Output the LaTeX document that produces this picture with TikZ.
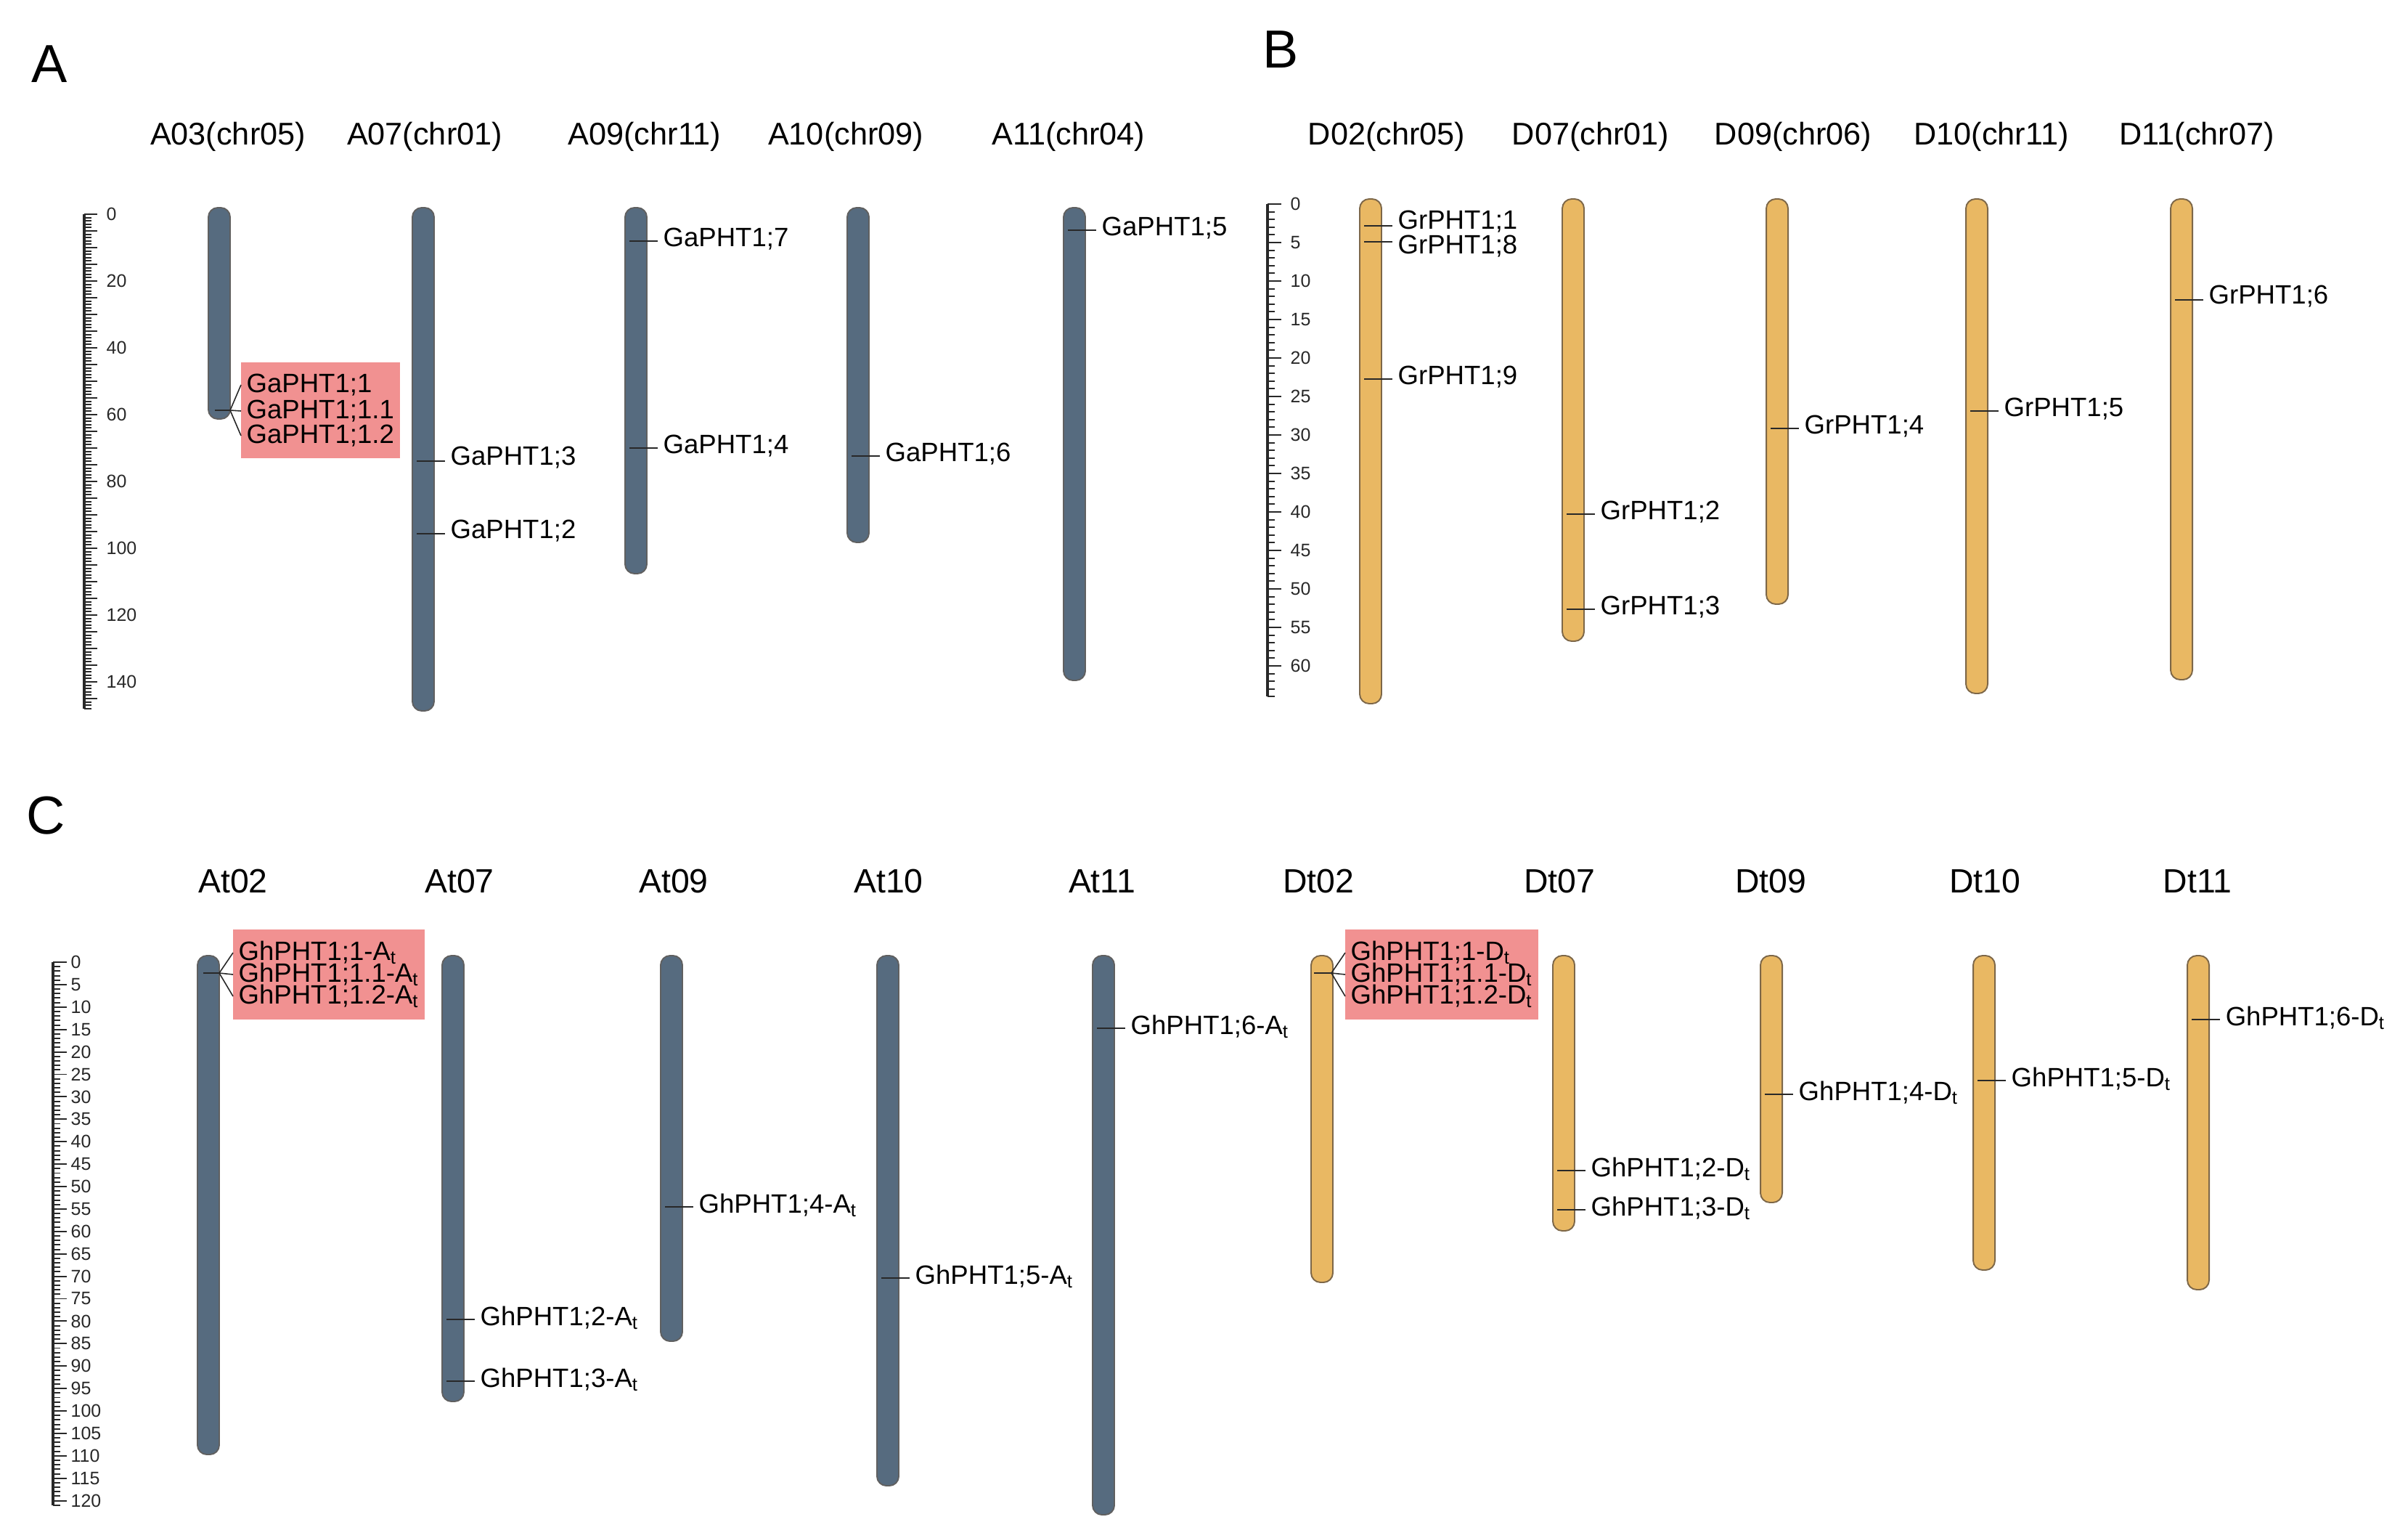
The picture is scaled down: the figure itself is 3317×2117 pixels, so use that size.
\documentclass[tikz,border=0pt]{standalone}
\usepackage{fontspec}
\setmainfont{Liberation Sans}
\usetikzlibrary{fit,backgrounds}
\definecolor{chromA}{RGB}{86,107,127}
\definecolor{chromD}{RGB}{233,184,99}
\definecolor{dupbox}{RGB}{241,145,145}
\definecolor{inkgray}{RGB}{40,40,40}

\begin{document}
\begin{tikzpicture}[x=0.1mm, y=-0.1mm,
    achrom/.style={fill=chromA, draw=gray!75!black, line width=0.55pt, rounded corners=1.3mm},
    dchrom/.style={fill=chromD, draw={rgb,255:red,125;green,103;blue,72}, line width=0.55pt, rounded corners=1.3mm},
    gene/.style={anchor=west, inner xsep=0.7mm, inner ysep=0pt, text=black, font=\fontsize{10.4}{12}\selectfont},
    gtick/.style={draw=inkgray, line width=0.6pt},
    dup/.style={fill=dupbox, draw=none, inner xsep=0pt, inner ysep=1.5mm},
    chrname/.style={text=black, font=\fontsize{12.3}{14}\selectfont},
    chrnamec/.style={text=black, font=\fontsize{13.2}{15}\selectfont},
    panel/.style={anchor=west, inner sep=0pt, font=\fontsize{21}{24}\selectfont},
    raxis/.style={draw=inkgray, line width=1pt},
    rtick/.style={draw=inkgray, line width=0.55pt},
    rlab/.style={anchor=west, inner sep=0pt, text=inkgray, font=\fontsize{7.1}{8}\selectfont}
]
    \useasboundingbox (0,0) rectangle (3317,2117);

    % panel letters
    \node[panel] (pA) at (43,88) {A};
    \node[panel] (pB) at (1739,68) {B};
    \node[panel] (pC) at (36,1123) {C};

    % chromosome names
    \foreach \x/\t [count=\i] in {314/A03(chr05), 585/A07(chr01), 888/A09(chr11), 1165/A10(chr09), 1472/A11(chr04),
                                  1910/D02(chr05), 2191/D07(chr01), 2470/D09(chr06), 2743/D10(chr11), 3026/D11(chr07)} {
        \node[chrname] (n\i) at (\x,188) {\t};
    }
    \foreach \x/\t [count=\i] in {321/At02, 633/At07, 928/At09, 1224/At10, 1518/At11,
                                  1816/Dt02, 2148/Dt07, 2439/Dt09, 2734/Dt10, 3027/Dt11} {
        \node[chrnamec] (m\i) at (\x,1214) {\t};
    }

    % scale bars
    \draw[raxis] (116,295) -- (116,{295+148*4.6});
    \foreach \i in {0,...,148} {
        \pgfmathsetmacro\tl{ifthenelse(mod(\i,5)==0,18,10)}
        \draw[rtick] (116,{295+\i*4.6}) -- ++(\tl,0);
    }
    \foreach \v in {0,20,...,140}
        \node[rlab] (ra\v) at (146,{295+\v*4.6}) {\v};

    \draw[raxis] (1746,281) -- (1746,{281+64*10.6});
    \foreach \i in {0,...,64} {
        \pgfmathsetmacro\tl{ifthenelse(mod(\i,5)==0,19,10)}
        \draw[rtick] (1746,{281+\i*10.6}) -- ++(\tl,0);
    }
    \foreach \v in {0,5,...,60}
        \node[rlab] (rb\v) at (1777,{281+\v*10.6}) {\v};

    \draw[raxis] (73,1325) -- (73,{1325+121*6.18});
    \foreach \i in {0,...,121} {
        \pgfmathsetmacro\tl{ifthenelse(mod(\i,5)==0,19,10)}
        \draw[rtick] (73,{1325+\i*6.18}) -- ++(\tl,0);
    }
    \foreach \v in {0,5,...,120}
        \node[rlab] (rc\v) at (97,{1325+\v*6.18}) {\v};

    % chromosomes
    \foreach \x/\b in {302/577, 583/979, 876/790, 1182/747, 1480/937}
        \draw[achrom] (\x-15,286) rectangle (\x+15,\b);
    \foreach \x/\b in {1888/969, 2167/883, 2448/832, 2723/955, 3005/936}
        \draw[dchrom] (\x-15,274) rectangle (\x+15,\b);
    \foreach \x/\b in {287/2003, 624/1930, 925/1847, 1223/2046, 1520/2086}
        \draw[achrom] (\x-15,1316) rectangle (\x+15,\b);
    \foreach \x/\b in {1821/1766, 2154/1695, 2440/1656, 2733/1749, 3028/1776}
        \draw[dchrom] (\x-15,1316) rectangle (\x+15,\b);

    % single genes
    \foreach \cx/\ty/\ly/\gid/\txt in {
            876/332/329/ga7/{GaPHT1;7}, 876/617/614/ga4/{GaPHT1;4}, 1182/628/625/ga6/{GaPHT1;6},
            583/635/630/ga3/{GaPHT1;3}, 583/735/731/ga2/{GaPHT1;2}, 1480/317/314/ga5/{GaPHT1;5},
            1888/311/305/gr1/{GrPHT1;1}, 1888/333/339/gr8/{GrPHT1;8}, 1888/522/519/gr9/{GrPHT1;9},
            2167/708/705/gr2/{GrPHT1;2}, 2167/839/836/gr3/{GrPHT1;3}, 2448/590/587/gr4/{GrPHT1;4},
            2723/566/563/gr5/{GrPHT1;5}, 3005/413/408/gr6/{GrPHT1;6},
            624/1817/1815/ha2/{GhPHT1;2-A\textsubscript{t}}, 624/1902/1900/ha3/{GhPHT1;3-A\textsubscript{t}},
            925/1662/1660/ha4/{GhPHT1;4-A\textsubscript{t}}, 1223/1760/1758/ha5/{GhPHT1;5-A\textsubscript{t}},
            1520/1416/1414/ha6/{GhPHT1;6-A\textsubscript{t}},
            2154/1612/1610/hd2/{GhPHT1;2-D\textsubscript{t}}, 2154/1666/1664/hd3/{GhPHT1;3-D\textsubscript{t}},
            2440/1507/1505/hd4/{GhPHT1;4-D\textsubscript{t}}, 2733/1488/1486/hd5/{GhPHT1;5-D\textsubscript{t}},
            3028/1404/1402/hd6/{GhPHT1;6-D\textsubscript{t}}} {
        \coordinate (t\gid) at (\cx-9,\ty);
        \node[gene] (\gid) at (\cx+30,\ly) {\txt};
        \draw[gtick] (t\gid) -- (t\gid -| \gid.west);
    }

    % tandem clusters
    \coordinate (ka) at (296,565);
    \coordinate (kae) at (317,565);
    \node[gene] (ga11) at (332,530) {GaPHT1;1};
    \node[gene] (ga12) at (332,566) {GaPHT1;1.1};
    \node[gene] (ga13) at (332,600) {GaPHT1;1.2};

    \coordinate (kb) at (280,1340);
    \coordinate (kbe) at (302,1340);
    \node[gene] (ha11) at (321,1312) {GhPHT1;1-A\textsubscript{t}};
    \node[gene] (ha12) at (321,1342) {GhPHT1;1.1-A\textsubscript{t}};
    \node[gene] (ha13) at (321,1372) {GhPHT1;1.2-A\textsubscript{t}};

    \coordinate (kc) at (1810,1340);
    \coordinate (kce) at (1834,1340);
    \node[gene] (hd11) at (1853,1312) {GhPHT1;1-D\textsubscript{t}};
    \node[gene] (hd12) at (1853,1342) {GhPHT1;1.1-D\textsubscript{t}};
    \node[gene] (hd13) at (1853,1372) {GhPHT1;1.2-D\textsubscript{t}};

    \foreach \s/\g in {ka/ga1, kb/ha1, kc/hd1} {
        \draw[gtick] (\s) -- (\s e);
        \foreach \k in {1,2,3}
            \draw[gtick, line width=0.45pt] (\s e) -- (\g\k.west);
    }

    \begin{scope}[on background layer]
        \node[dup, fit=(ga11)(ga12)(ga13)] (boxa) {};
        \node[dup, fit=(ha11)(ha12)(ha13)] (boxb) {};
        \node[dup, fit=(hd11)(hd12)(hd13)] (boxc) {};
    \end{scope}
\end{tikzpicture}
\end{document}
